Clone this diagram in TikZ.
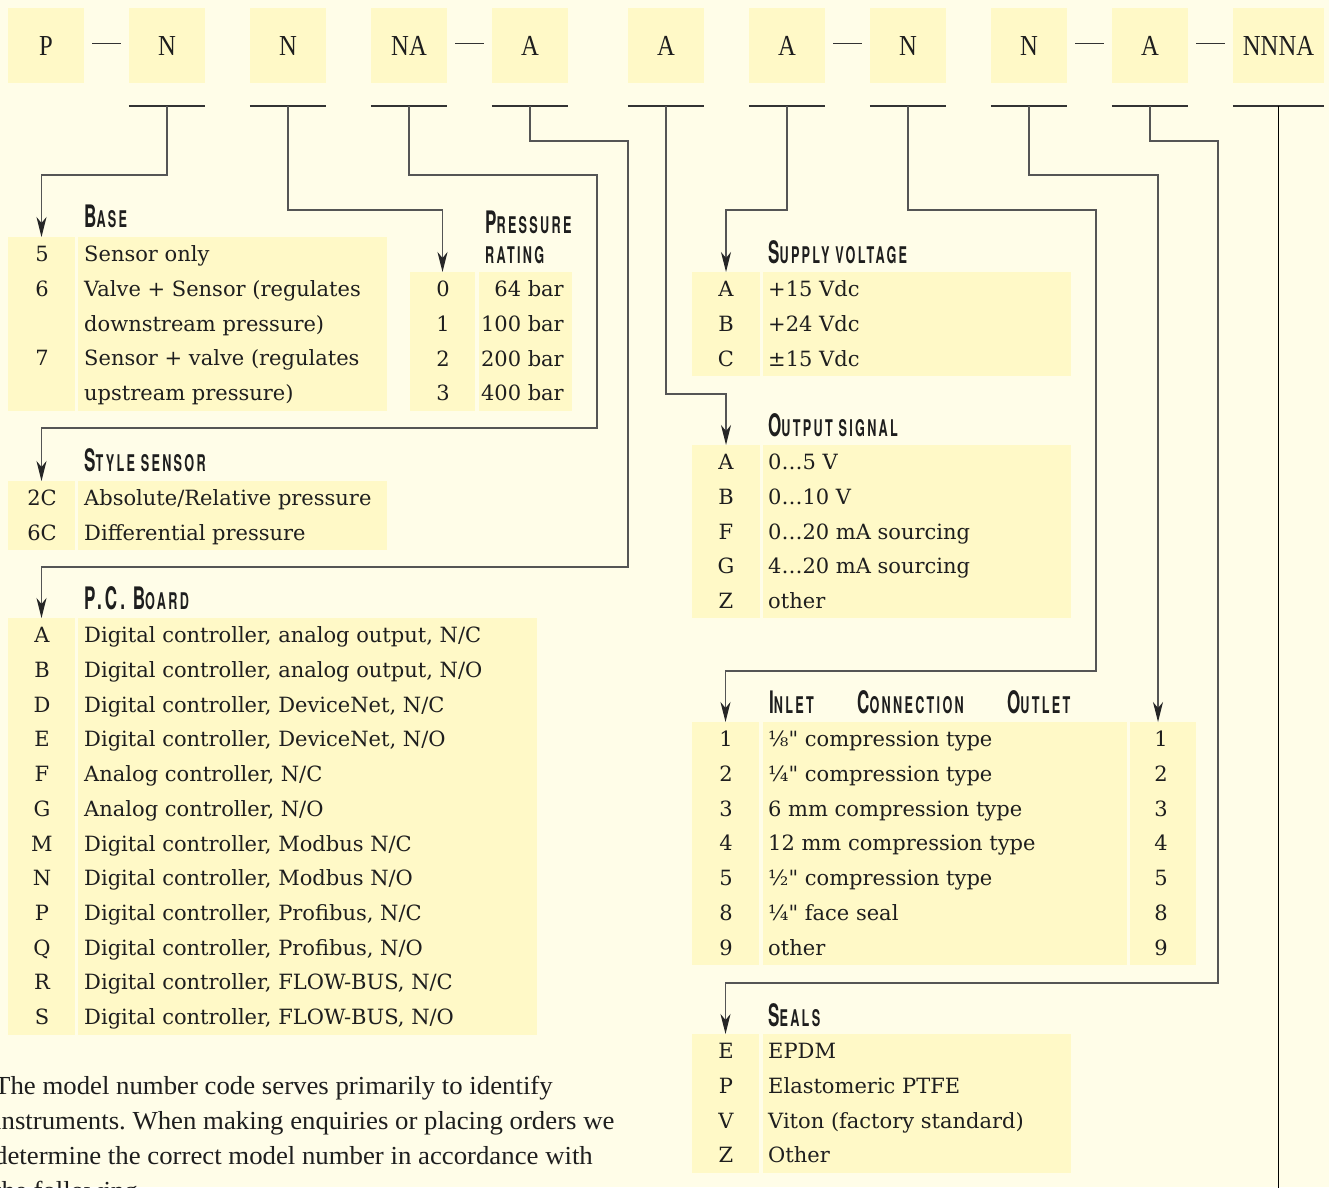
\documentclass[tikz,border=0pt]{standalone}
\usepackage{fontspec}
\setmainfont{DejaVu Serif}
\newfontfamily\qfont{DejaVu Serif}
\newfontfamily\codefont[FakeStretch=0.85]{Liberation Serif}
\newfontfamily\parafont[FakeStretch=1.03]{Liberation Serif}
\newfontfamily\hdfont[FakeStretch=0.55,LetterSpace=10]{TeX Gyre Heros}
\usetikzlibrary{arrows.meta}
\definecolor{bgc}{RGB}{255,253,232}
\definecolor{boxc}{RGB}{255,249,199}
\definecolor{linec}{RGB}{85,85,85}
\definecolor{txtc}{RGB}{30,30,30}
\newcommand\hd[2]{{\hdfont\bfseries\fontsize{31}{31}\selectfont #1\fontsize{23}{23}\selectfont #2}}
\newcommand\qq{{\qfont"}}
\newcommand\cellbox[5]{\node[cell, minimum width=#4pt, minimum height=#5pt] (#1) at (#2,#3) {};}
\newcommand\tabrows[5]{%
  \foreach \k/\v [count=\i] in {#5} {%
    \pgfmathsetmacro\yy{#2+24.85+34.7*(\i-1)}
    \node[ktext] (#1k\i) at (#3,\yy) {\k};
    \node[vtext] (#1v\i) at (#4,\yy) {\v};}}
\tikzset{
  codebox/.style={fill=boxc, minimum height=75pt, inner sep=0pt, font=\codefont\fontsize{29}{29}\selectfont, text=txtc},
  cell/.style={fill=boxc, inner sep=0pt, outer sep=0pt, anchor=north west},
  ktext/.style={font=\fontsize{21}{21}\selectfont, text=txtc, inner sep=0pt, anchor=base},
  vtext/.style={font=\fontsize{21}{21}\selectfont, text=txtc, inner sep=0pt, anchor=base west},
  rtext/.style={font=\fontsize{21}{21}\selectfont, text=txtc, inner sep=0pt, anchor=base east},
  hdr/.style={text=txtc, inner sep=0pt, anchor=base west},
  para/.style={font=\parafont\fontsize{26}{26}\selectfont\frenchspacing, text=txtc, inner sep=0pt, anchor=base west},
  conn/.style={draw=linec, line width=1.4pt, -{Stealth[length=20pt,width=10pt,inset=6pt,color=black!85]}},
  uline/.style={draw=black!80, line width=1.3pt},
  dashl/.style={draw=black!80, line width=1.3pt},
  mainline/.style={draw=black, line width=1.4pt},
}
\begin{document}
\begin{tikzpicture}[x=1pt,y=-1pt]
\useasboundingbox (0,0) rectangle (1329,1187);
\fill[bgc] (0,0) rectangle (1329,1187);
\clip (0,0) rectangle (1329,1187);
\coordinate (lineY) at (0,106);

% ---- code boxes
\foreach \nm/\cx/\w/\t in {c1/46/76/P, c2/167/76/N, c3/288/76/N, c4/409/76/NA, c5/530/76/A, c6/666/76/A, c7/787/76/A, c8/908/76/N, c9/1029/76/N, c10/1150/76/A, c11/1278.5/91/NNNA}
  \node[codebox, minimum width=\w pt] (\nm) at (\cx,45.5) {\t};

\foreach \a/\b in {c1/c2, c4/c5, c7/c8, c9/c10, c10/c11}
  \draw[dashl] ([xshift=8pt,yshift=2pt]\a.east) -- ([xshift=-8pt,yshift=2pt]\b.west);

\foreach \nm in {c2,c3,c4,c5,c6,c7,c8,c9,c10,c11}{
  \draw[uline] (\nm.west |- lineY) -- (\nm.east |- lineY);
  \coordinate (u-\nm) at (\nm |- lineY);
}

% ---- table cells
\cellbox{kBase}{8}{237}{67}{174}   \cellbox{vBase}{78}{237}{309}{174}
\cellbox{kPress}{410}{272}{65}{139} \cellbox{vPress}{479}{272}{93}{139}
\cellbox{kStyle}{8}{481}{67}{69}    \cellbox{vStyle}{78}{481}{309}{69}
\cellbox{kPC}{8}{618}{67}{417}      \cellbox{vPC}{78}{618}{459}{417}
\cellbox{kSup}{692}{272}{68}{104}   \cellbox{vSup}{763}{272}{308}{104}
\cellbox{kOut}{692}{445}{68}{173}   \cellbox{vOut}{763}{445}{308}{173}
\cellbox{kIn}{692}{722}{67}{243}    \cellbox{vIn}{763}{722}{364}{243} \cellbox{oIn}{1130}{722}{66}{243}
\cellbox{kSeal}{692}{1034}{67}{139} \cellbox{vSeal}{763}{1034}{308}{139}

% ---- headers
\node[hdr] (hBase) at (84,227) {\hd{B}{ASE}};
\node[hdr] (hPress1) at (485,233) {\hd{P}{RESSURE}};
\node[hdr] (hPress2) at (485,263) {\hd{}{RATING}};
\node[hdr] (hStyle) at (84,471) {\hd{S}{TYLE SENSOR}};
\node[hdr] (hPC) at (84,609) {\hd{P.C. B}{OARD}};
\node[hdr] (hSup) at (768,263) {\hd{S}{UPPLY VOLTAGE}};
\node[hdr] (hOut) at (768,436) {\hd{O}{UTPUT SIGNAL}};
\node[hdr] (hIn) at (769,713) {\hd{I}{NLET}};
\node[hdr] (hConn) at (857,713) {\hd{C}{ONNECTION}};
\node[hdr] (hOutl) at (1007,713) {\hd{O}{UTLET}};
\node[hdr] (hSeal) at (768,1026) {\hd{S}{EALS}};

% ---- rows
\tabrows{base}{237}{42}{84}{5/Sensor only, 6/{Valve + Sensor (regulates}, /{downstream pressure)}, 7/{Sensor + valve (regulates}, /{upstream pressure)}}
\foreach \k/\v [count=\i] in {0/64 bar, 1/100 bar, 2/200 bar, 3/400 bar}{
  \pgfmathsetmacro\yy{272+24.85+34.7*(\i-1)}
  \node[ktext] (pressk\i) at (443,\yy) {\k};
  \node[rtext] (pressv\i) at (564,\yy) {\v};
}
\tabrows{style}{481}{42}{84}{2C/{Absolute/Relative pressure}, 6C/{Differential pressure}}
\tabrows{pc}{618}{42}{84}{A/{Digital controller, analog output, N/C}, B/{Digital controller, analog output, N/O}, D/{Digital controller, DeviceNet, N/C}, E/{Digital controller, DeviceNet, N/O}, F/{Analog controller, N/C}, G/{Analog controller, N/O}, M/{Digital controller, Modbus N/C}, N/{Digital controller, Modbus N/O}, P/{Digital controller, Profibus, N/C}, Q/{Digital controller, Profibus, N/O}, R/{Digital controller, FLOW-BUS, N/C}, S/{Digital controller, FLOW-BUS, N/O}}
\tabrows{sup}{272}{726}{768}{A/+15 Vdc, B/+24 Vdc, C/±15 Vdc}
\tabrows{out}{445}{726}{768}{A/0…5 V, B/0…10 V, F/0…20 mA sourcing, G/4…20 mA sourcing, Z/other}
\foreach \k/\v [count=\i] in {1/{⅛\qq{} compression type}, 2/{¼\qq{} compression type}, 3/6 mm compression type, 4/12 mm compression type, 5/{½\qq{} compression type}, 8/{¼\qq{} face seal}, 9/other}{
  \pgfmathsetmacro\yy{722+24.85+34.7*(\i-1)}
  \node[ktext] (ink\i) at (726,\yy) {\k};
  \node[vtext] (inv\i) at (768,\yy) {\v};
  \node[ktext] (ino\i) at (1161,\yy) {\k};
}
\tabrows{seal}{1034}{726}{768}{E/EPDM, P/Elastomeric PTFE, V/{Viton (factory standard)}, Z/Other}

% ---- connectors
\coordinate (outArrow) at (1158,722);
\coordinate (bottomEnd) at (0,1195);
\draw[conn] (u-c2) -- ++(0,69) -| (kBase.north);
\draw[conn] (u-c3) -- ++(0,104) -| (kPress.north);
\draw[conn] (u-c4) -- ++(0,69) -| ++(188,253) -| (kStyle.north);
\draw[conn] (u-c5) -- ++(0,35) -| ++(98,426) -| (kPC.north);
\draw[conn] (u-c6) -- ++(0,288) -| (kOut.north);
\draw[conn] (u-c7) -- ++(0,104) -| (kSup.north);
\draw[conn] (u-c8) -- ++(0,104) -| ++(188,461) -| (kIn.north);
\draw[conn] (u-c9) -- ++(0,69) -| (outArrow);
\draw[conn] (u-c10) -- ++(0,35) -| ++(68,842) -| (kSeal.north);
\draw[mainline] (u-c11) -- (u-c11 |- bottomEnd);

% ---- paragraph
\node[para] (p1) at (-6,1094) {The model number code serves primarily to identify};
\node[para] (p2) at (-6,1129) {instruments. When making enquiries or placing orders we};
\node[para] (p3) at (-6,1164) {determine the correct model number in accordance with};
\node[para] (p4) at (-6,1199) {the following.};
\end{tikzpicture}
\end{document}
